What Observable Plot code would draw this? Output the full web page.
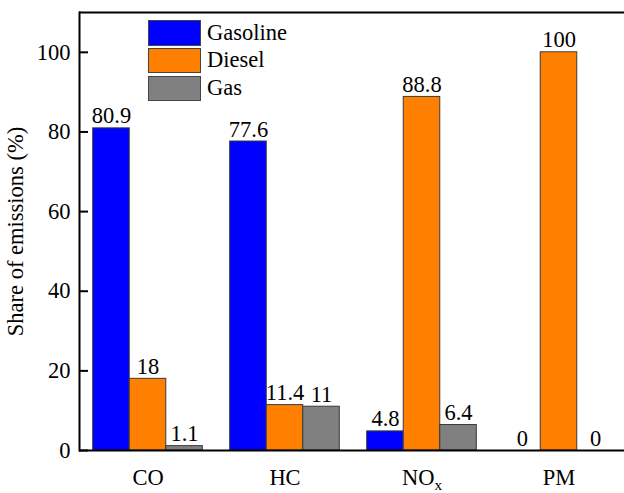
<!DOCTYPE html>
<html><head><meta charset="utf-8">
<script src="https://cdn.jsdelivr.net/npm/d3@7"></script>
<script src="https://cdn.jsdelivr.net/npm/@observablehq/plot@0.6"></script>
<style>
html,body{margin:0;padding:0;background:#fff;overflow:hidden;}
#wrap{position:relative;width:624px;height:493px;font-family:"Liberation Serif","Times New Roman",serif;}
#legend{position:absolute;left:148px;top:21px;}
#legend .row{display:flex;align-items:center;height:27.8px;}
#legend .row .sw{width:51px;height:23.5px;border:1px solid #444;box-sizing:content-box;margin-right:6px;}
#legend .row span{font-family:"Liberation Serif","Times New Roman",serif;font-size:22.5px;line-height:1;color:#000;}
#legend .row{position:relative;top:-2px;}
</style></head><body><div id="wrap"><div id="legend"></div></div>
<script>
const pollutants = ["CO", "HC", "NOx", "PM"];
const fuels = ["Gasoline", "Diesel", "Gas"];
const gasoline = [80.9, 77.6, 4.8, 0];
const diesel = [18, 11.4, 88.8, 100];
const gas = [1.1, 11, 6.4, 0];
const colors = ["#0000ff", "#ff8000", "#808080"];
const yTicks = [0, 20, 40, 60, 80, 100];

const series = [gasoline, diesel, gas];
const data = pollutants.flatMap((p, i) => fuels.map((f, j) => ({pollutant: p, fuel: f, value: series[j][i]})));

const font = "'Liberation Serif', 'Times New Roman', serif";
const chart = Plot.plot({
  width: 624, height: 493,
  marginLeft: 79, marginRight: 0, marginTop: 12, marginBottom: 43,
  style: {fontFamily: font, fontSize: "22.5px", color: "#000", background: "#fff", overflow: "hidden"},
  fx: {domain: pollutants, range: [79, 627], padding: 0, round: false, label: null},
  x: {domain: fuels, paddingInner: 0, paddingOuter: 0.375, round: false, axis: null},
  y: {domain: [0, 110], axis: null},
  color: {domain: fuels, range: colors},
  marks: [
    Plot.barY(data, {fx: "pollutant", x: "fuel", y: "value", fill: "fuel", stroke: "#3a3a3a", strokeWidth: 1}),
    Plot.text(data, {fx: "pollutant", x: "fuel", y: "value", text: d => String(d.value), lineAnchor: "bottom", dy: -5, fill: "#000", fontFamily: font, fontSize: 22.5}),
    Plot.ruleY([0, 110], {stroke: "#000", strokeWidth: 2}),
    Plot.frame({anchor: "left", facetAnchor: "left", stroke: "#000", strokeWidth: 2}),
    Plot.axisY({ticks: yTicks, anchor: "left", tickSize: 9, insetLeft: 9, tickPadding: 9, strokeWidth: 2,
      label: "Share of emissions (%)", labelAnchor: "center", labelArrow: "none", labelOffset: 72}),
    Plot.axisFx({anchor: "bottom", tickSize: 0, tickPadding: 19, label: null})
  ]
});
d3.select(chart).selectAll("text").filter(function() { return this.textContent === "NOx"; }).each(function() {
  const t = d3.select(this);
  t.text(null);
  t.append("tspan").text("NO");
  t.append("tspan").attr("dy", "0.3em").attr("font-size", "0.68em").text("x");
});
document.getElementById("wrap").prepend(chart);

const legend = d3.select("#legend");
fuels.forEach((f, i) => {
  const row = legend.append("div").attr("class", "row");
  row.append("div").attr("class", "sw").style("background", colors[i]);
  row.append("span").text(f);
});
</script></body></html>
